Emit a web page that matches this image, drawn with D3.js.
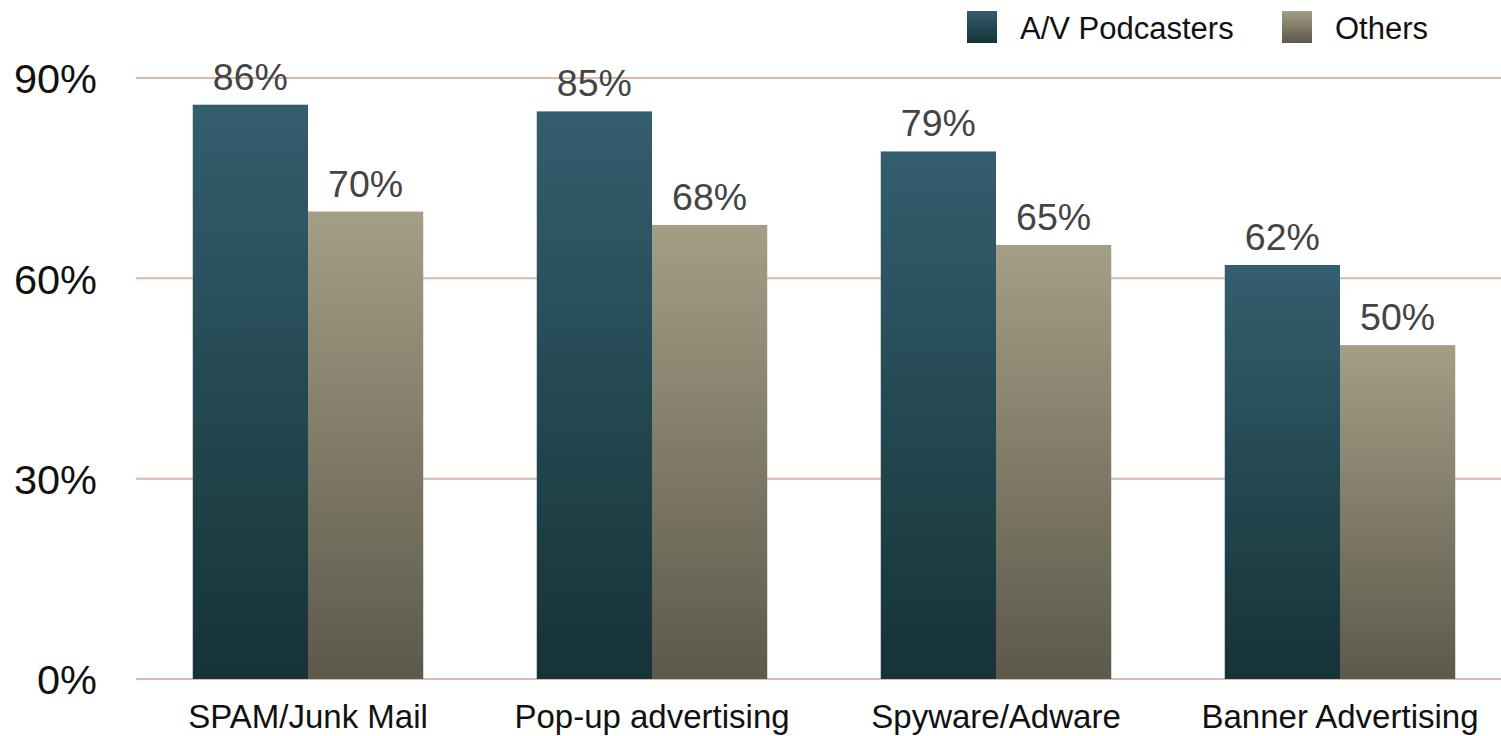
<!DOCTYPE html>
<html><head><meta charset="utf-8">
<script src="https://cdn.jsdelivr.net/npm/d3@7"></script>
<style>body{margin:0;background:#fff}svg{display:block}text{font-family:"Liberation Sans",Arial,Helvetica,sans-serif}</style>
</head><body>
<svg id="c" width="1501" height="736"></svg>
<script>
const categories = ["SPAM/Junk Mail","Pop-up advertising","Spyware/Adware","Banner Advertising"];
const seriesNames = ["A/V Podcasters","Others"];
const podcasters = [86,85,79,62];
const others = [70,68,65,50];
const yTicks = [0,30,60,90];

const svg = d3.select("#c");
const defs = svg.append("defs");
const grads = [["g0","#335e6e","#163336"],["g1","#a49e86","#5d594a"]];
grads.forEach(([id,a,b])=>{
  const g = defs.append("linearGradient").attr("id",id).attr("x1",0).attr("y1",0).attr("x2",0).attr("y2",1);
  g.append("stop").attr("offset","0%").attr("stop-color",a);
  g.append("stop").attr("offset","100%").attr("stop-color",b);
});

const x = d3.scaleBand().domain(categories).range([136,1512]).paddingInner(0.33).paddingOuter(0.165);
const x1 = d3.scaleBand().domain(seriesNames).range([0,x.bandwidth()]);
const y = d3.scaleLinear().domain([0,90]).range([679,78]);

// gridlines
svg.append("g").selectAll("line").data(yTicks).join("line")
  .attr("x1",136).attr("x2",1501).attr("y1",d=>y(d)).attr("y2",d=>y(d))
  .attr("stroke","#d8b9aa").attr("stroke-width",2);

// y labels
const yAxis = d3.axisLeft(y).tickValues(yTicks).tickFormat(d=>d+"%").tickSize(0).tickPadding(0);
const ya = svg.append("g").attr("transform","translate(97,0)").call(yAxis);
ya.select(".domain").remove();
ya.selectAll("text").attr("font-size",41.5).attr("fill","#111").attr("dy","0.36em");

const data = categories.map((c,i)=>({c, vals:[podcasters[i],others[i]]}));
const grp = svg.append("g").selectAll("g").data(data).join("g")
  .attr("transform",d=>`translate(${x(d.c)},0)`);
grp.selectAll("rect").data(d=>d.vals.map((v,j)=>({v,j}))).join("rect")
  .attr("x",d=>x1(seriesNames[d.j])).attr("width",x1.bandwidth())
  .attr("y",d=>y(d.v)).attr("height",d=>y(0)-y(d.v))
  .attr("fill",d=>`url(#g${d.j})`);
grp.selectAll("text.v").data(d=>d.vals.map((v,j)=>({v,j}))).join("text").attr("class","v")
  .attr("x",d=>x1(seriesNames[d.j])+x1.bandwidth()/2).attr("y",d=>y(d.v)-15)
  .attr("text-anchor","middle").attr("font-size",37.5).attr("fill","#444")
  .text(d=>d.v+"%");

// x labels
const xAxis = d3.axisBottom(x).tickSize(0).tickPadding(0);
const xa = svg.append("g").attr("transform","translate(0,728)").call(xAxis);
xa.select(".domain").remove();
xa.selectAll("text").attr("font-size",33).attr("fill","#111").attr("dy",0);

// legend
const leg = svg.append("g");
const legX = [967,1282];
seriesNames.forEach((s,i)=>{
  leg.append("rect").attr("x",legX[i]).attr("y",11).attr("width",30).attr("height",32).attr("fill",`url(#g${i})`);
  leg.append("text").attr("x",legX[i]+53).attr("y",39).attr("font-size",31).attr("fill","#111").text(s);
});
</script>
</body></html>
